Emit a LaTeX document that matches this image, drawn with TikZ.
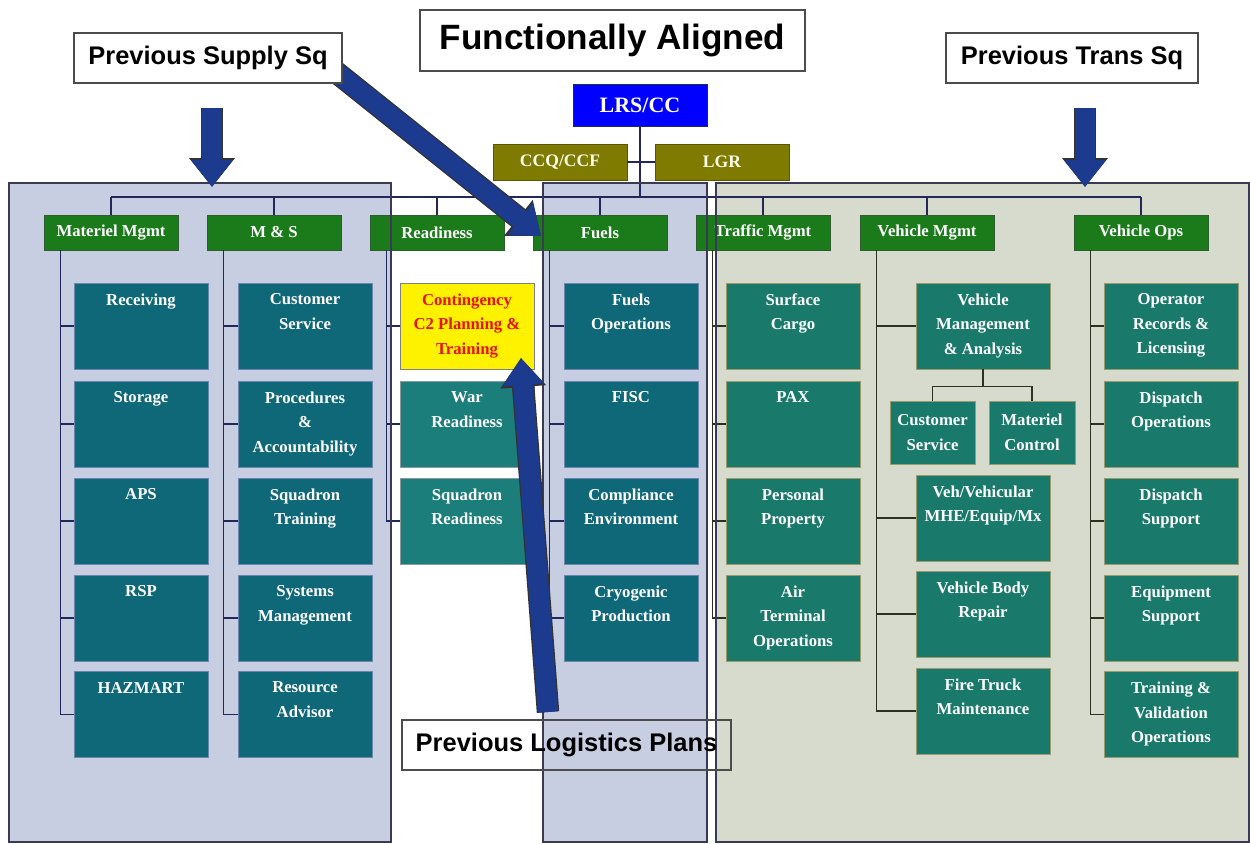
\documentclass[tikz,border=0pt]{standalone}
\usepackage{fontspec}
\setmainfont{Liberation Serif}
\newfontfamily\hv{Liberation Sans}
\usetikzlibrary{arrows.meta,calc}
\definecolor{panelblue}{HTML}{C8CEE2}
\definecolor{panelgreen}{HTML}{D7DBCD}
\definecolor{panelline}{HTML}{3A3A55}
\definecolor{hdrgreen}{HTML}{1B7B1B}
\definecolor{hdrline}{HTML}{2E5E2E}
\definecolor{tealB}{HTML}{0F6878}
\definecolor{tealR}{HTML}{1B7E7A}
\definecolor{tealG}{HTML}{197A6B}
\definecolor{bordB}{HTML}{6C86B0}
\definecolor{bordR}{HTML}{8A9AA0}
\definecolor{bordG}{HTML}{9A9A6A}
\definecolor{lrsblue}{HTML}{0000FF}
\definecolor{olivebox}{HTML}{7F7A00}
\definecolor{navyarrow}{HTML}{1C3A8E}
\definecolor{redtxt}{HTML}{E8120C}
\definecolor{connB}{HTML}{23285A}
\definecolor{connG}{HTML}{2B3320}
\tikzset{
  hdr/.style={draw=hdrline, fill=hdrgreen, text=white, minimum width=2.68cm, minimum height=0.70cm, inner sep=0pt, font=\bfseries\fontsize{9.5}{11}\selectfont},
  boxB/.style={draw=bordB, fill=tealB, minimum width=2.68cm, minimum height=1.72cm, inner sep=0pt},
  boxR/.style={draw=bordR, fill=tealR, minimum width=2.68cm, minimum height=1.72cm, inner sep=0pt},
  boxG/.style={draw=bordG, fill=tealG, minimum width=2.68cm, minimum height=1.72cm, inner sep=0pt},
  boxY/.style={draw=gray, fill=yellow, minimum width=2.68cm, minimum height=1.72cm, inner sep=0pt},
  txt/.style={anchor=north, text=white, align=center, inner sep=0pt, font=\bfseries\fontsize{9.5}{14}\selectfont},
  ctxt/.style={text=white, align=center, inner sep=0pt, font=\bfseries\fontsize{9.5}{14}\selectfont},
  lineB/.style={draw=connB, line width=0.6pt},
  lineG/.style={draw=connG, line width=0.6pt},
  title/.style={draw=black!70, fill=white, line width=0.8pt, inner sep=0pt, font=\hv\bfseries\fontsize{14.5}{16}\selectfont},
  bigarrowout/.style={draw=black!80, line width=0.45cm, -{Triangle[length=0.58cm,width=0.88cm]}},
  bigarrow/.style={draw=navyarrow, line width=0.4cm, -{Triangle[length=0.54cm,width=0.80cm]}},
}
\newcommand\bx[4]{\node[#2] (#1) at (#3) {}; \node[txt] (#1t) at ([yshift=-0.21cm]#1.north) {#4};}
\begin{document}
\begin{tikzpicture}[x=0.02cm,y=-0.02cm]
\useasboundingbox (0,0) rectangle (1250,844);
\fill[white] (0,0) rectangle (1250,844);
% panels (fills)
\fill[panelblue] (9,183) rectangle (391,842);
\fill[panelblue] (543,183) rectangle (707,842);
\fill[panelgreen] (716,183) rectangle (1249,842);

% top nodes
\node[draw=connB, fill=lrsblue, text=white, minimum width=2.68cm, minimum height=0.84cm, inner sep=0pt, font=\bfseries\fontsize{12.5}{14}\selectfont] (LRS) at (640,105) {LRS/CC};
\node[draw=olivebox!70!black, fill=olivebox, text=white!92!yellow, minimum width=2.68cm, minimum height=0.72cm, inner sep=0pt, font=\bfseries\fontsize{10}{12}\selectfont] (CCQ) at (560,162) {CCQ/CCF};
\node[draw=olivebox!70!black, fill=olivebox, text=white!92!yellow, minimum width=2.68cm, minimum height=0.72cm, inner sep=0pt, font=\bfseries\fontsize{10}{12}\selectfont] (LGR) at (722,162) {LGR};

% headers
\node[hdr] (MMh) at (111,232.5) {Materiel Mgmt};
\node[hdr] (MSh) at (274,232.5) {M \& S};
\node[hdr] (RDh) at (437,232.5) {Readiness};
\node[hdr] (FUh) at (600,232.5) {Fuels};
\node[hdr] (TRh) at (763,232.5) {Traffic Mgmt};
\node[hdr] (VMh) at (927,232.5) {Vehicle Mgmt};
\node[hdr] (VOh) at (1141,232.5) {Vehicle Ops};

% bus
\coordinate (busL) at (111,197);
\coordinate (busR) at (1141,197);
\draw[lineB] (busL) -- (busR);
\draw[lineB] (LRS.south) -- (LRS.south |- busL);
\draw[lineB] (CCQ.east) -- (LGR.west);
\foreach \h in {MMh,MSh,RDh,FUh,TRh,VMh,VOh} {\draw[lineB] (\h.north) -- (\h.north |- busL);}

% spines
\foreach \h in {MMh,MSh,RDh,FUh,TRh,VMh,VOh} {\coordinate (\h s) at ($(\h.south west)+(17,0)$);}

% Materiel Mgmt
\bx{mm1}{boxB}{141,326}{Receiving}
\bx{mm2}{boxB}{141,424}{Storage}
\bx{mm3}{boxB}{141,521}{APS}
\bx{mm4}{boxB}{141,618}{RSP}
\bx{mm5}{boxB}{141,714.5}{HAZMART}
% M & S
\bx{ms1}{boxB}{305,326}{Customer\\Service}
\bx{ms2}{boxB}{305,424}{Procedures\\\&\\Accountability}
\bx{ms3}{boxB}{305,521}{Squadron\\Training}
\bx{ms4}{boxB}{305,618}{Systems\\Management}
\bx{ms5}{boxB}{305,714.5}{Resource\\Advisor}
% Readiness
\node[boxY] (rd1) at (467,326) {};
\node[txt, text=redtxt] (rd1t) at ([yshift=-0.21cm]rd1.north) {Contingency\\C2 Planning \&\\Training};
\bx{rd2}{boxR}{467,424}{War\\Readiness}
\bx{rd3}{boxR}{467,521}{Squadron\\Readiness}
% Fuels
\bx{fu1}{boxB}{631,326}{Fuels\\Operations}
\bx{fu2}{boxB}{631,424}{FISC}
\bx{fu3}{boxB}{631,521}{Compliance\\Environment}
\bx{fu4}{boxB}{631,618}{Cryogenic\\Production}
% Traffic
\bx{tr1}{boxG}{793,326}{Surface\\Cargo}
\bx{tr2}{boxG}{793,424}{PAX}
\bx{tr3}{boxG}{793,521}{Personal\\Property}
\bx{tr4}{boxG}{793,618}{Air\\Terminal\\Operations}
% Vehicle Mgmt
\bx{vm1}{boxG}{983,326}{Vehicle\\Management\\\& Analysis}
\node[draw=bordG, fill=tealG, minimum width=1.70cm, minimum height=1.26cm, inner sep=0pt] (vcs) at (932.5,432.5) {};
\node[ctxt] (vcst) at (vcs.center) {Customer\\Service};
\node[draw=bordG, fill=tealG, minimum width=1.72cm, minimum height=1.26cm, inner sep=0pt] (vmc) at (1032,432.5) {};
\node[ctxt] (vmct) at (vmc.center) {Materiel\\Control};
\bx{vm2}{boxG}{983,518}{Veh/Vehicular\\MHE/Equip/Mx}
\bx{vm3}{boxG}{983,614}{Vehicle Body\\Repair}
\bx{vm4}{boxG}{983,711}{Fire Truck\\Maintenance}
% Vehicle Ops
\bx{vo1}{boxG}{1171,326}{Operator\\Records \&\\Licensing}
\bx{vo2}{boxG}{1171,424}{Dispatch\\Operations}
\bx{vo3}{boxG}{1171,521}{Dispatch\\Support}
\bx{vo4}{boxG}{1171,618}{Equipment\\Support}
\bx{vo5}{boxG}{1171,714.5}{Training \&\\Validation\\Operations}

% connectors
\foreach \c in {mm1,mm2,mm3,mm4,mm5} {\draw[lineB] (MMhs) |- (\c.west);}
\foreach \c in {ms1,ms2,ms3,ms4,ms5} {\draw[lineB] (MShs) |- (\c.west);}
\foreach \c in {rd1,rd2,rd3} {\draw[lineB] (RDhs) |- (\c.west);}
\foreach \c in {fu1,fu2,fu3,fu4} {\draw[lineB] (FUhs) |- (\c.west);}
\foreach \c in {tr1,tr2,tr3,tr4} {\draw[lineG] (TRhs) |- (\c.west);}
\foreach \c in {vm1,vm2,vm3,vm4} {\draw[lineG] (VMhs) |- (\c.west);}
\foreach \c in {vo1,vo2,vo3,vo4,vo5} {\draw[lineG] (VOhs) |- (\c.west);}
\coordinate (vmj) at ($(vm1.south)+(0,17)$);
\draw[lineG] (vm1.south) -- (vmj) -| (vcs.north);
\draw[lineG] (vmj) -| (vmc.north);

% panel borders on top
\draw[panelline, line width=0.7pt] (9,183) rectangle (391,842);
\draw[panelline, line width=0.7pt] (543,183) rectangle (707,842);
\draw[panelline, line width=0.7pt] (716,183) rectangle (1249,842);

% big arrows
\coordinate (a1s) at (212,108); \coordinate (a1e) at (212,187);
\coordinate (a2s) at (1085,108); \coordinate (a2e) at (1085,187);
\coordinate (a3s) at (336,72); \coordinate (a3e) at (541,236);
\coordinate (a4s) at (548,712); \coordinate (a4e) at (521,358);
\foreach \s/\e in {a1s/a1e,a2s/a2e,a3s/a3e,a4s/a4e} {
  \draw[bigarrowout] (\s) -- (\e);
  \draw[bigarrow] (\s) -- (\e);
}

% title boxes
\node[title, minimum width=5.36cm, minimum height=1.0cm] (supply) at (208,58) {Previous Supply Sq};
\node[title, minimum width=7.70cm, minimum height=1.22cm, font=\hv\bfseries\fontsize{20}{22}\selectfont] (func) at (612.5,40.5) {Functionally Aligned};
\node[title, minimum width=5.04cm, minimum height=1.0cm] (trans) at (1072,58) {Previous Trans Sq};
\node[title, fill=none, minimum width=6.58cm, minimum height=1.0cm] (logi) at (566.5,745) {Previous Logistics Plans};
\end{tikzpicture}
\end{document}
